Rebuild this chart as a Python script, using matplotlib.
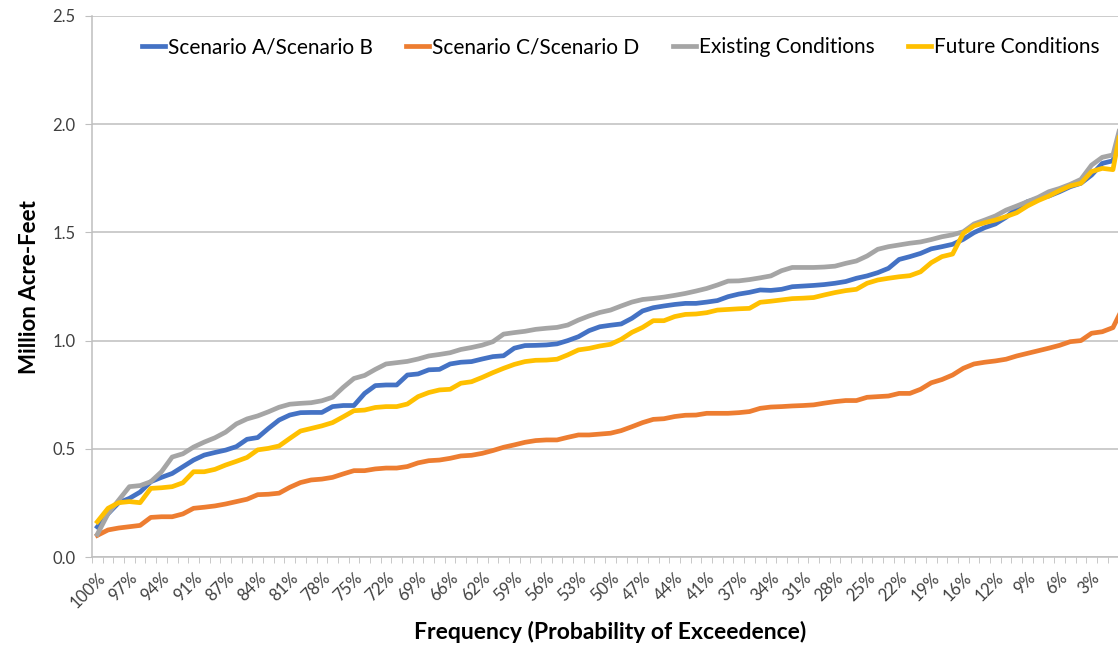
import matplotlib
matplotlib.use("Agg")
import matplotlib.pyplot as plt
from matplotlib.ticker import FixedLocator, FormatStrFormatter

plt.rcParams['font.family'] = ['Lato', 'DejaVu Sans']

# exceedance labels, shown on every third point (100% .. 3%)
freq_labels = ['100%', '97%', '94%', '91%', '87%', '84%', '81%', '78%',
               '75%', '72%', '69%', '66%', '62%', '59%', '56%', '53%',
               '50%', '47%', '44%', '41%', '37%', '34%', '31%', '28%',
               '25%', '22%', '19%', '16%', '12%', '9%', '6%', '3%']

scenario_ab = [0.139, 0.20, 0.251, 0.271, 0.30, 0.348, 0.368, 0.386, 0.417, 0.448,
               0.471, 0.483, 0.494, 0.510, 0.544, 0.552, 0.594, 0.633, 0.656, 0.667,
               0.668, 0.668, 0.695, 0.700, 0.700, 0.756, 0.792, 0.795, 0.795, 0.841,
               0.846, 0.865, 0.867, 0.892, 0.900, 0.903, 0.915, 0.926, 0.930, 0.965,
               0.977, 0.978, 0.980, 0.985, 1.000, 1.018, 1.046, 1.064, 1.071, 1.077,
               1.103, 1.137, 1.152, 1.160, 1.167, 1.172, 1.172, 1.178, 1.185, 1.203,
               1.215, 1.223, 1.234, 1.232, 1.237, 1.249, 1.252, 1.255, 1.259, 1.265,
               1.273, 1.288, 1.299, 1.314, 1.334, 1.375, 1.388, 1.403, 1.424, 1.434,
               1.445, 1.468, 1.499, 1.522, 1.539, 1.570, 1.611, 1.642, 1.656, 1.668,
               1.688, 1.711, 1.727, 1.765, 1.819, 1.831, 2.00]

scenario_cd = [0.100, 0.125, 0.134, 0.140, 0.146, 0.183, 0.186, 0.186, 0.199, 0.225,
               0.230, 0.236, 0.245, 0.256, 0.267, 0.288, 0.290, 0.295, 0.322, 0.344,
               0.356, 0.360, 0.368, 0.384, 0.399, 0.399, 0.407, 0.411, 0.411, 0.418,
               0.435, 0.445, 0.448, 0.456, 0.467, 0.470, 0.479, 0.492, 0.507, 0.518,
               0.530, 0.538, 0.541, 0.541, 0.553, 0.564, 0.564, 0.568, 0.572, 0.584,
               0.602, 0.621, 0.636, 0.639, 0.649, 0.655, 0.656, 0.664, 0.664, 0.664,
               0.667, 0.672, 0.687, 0.693, 0.695, 0.698, 0.700, 0.703, 0.711, 0.718,
               0.723, 0.723, 0.738, 0.741, 0.744, 0.756, 0.756, 0.775, 0.805, 0.820,
               0.841, 0.872, 0.892, 0.900, 0.906, 0.914, 0.929, 0.941, 0.953, 0.965,
               0.978, 0.995, 1.000, 1.034, 1.041, 1.060, 1.160]

existing = [0.105, 0.20, 0.263, 0.325, 0.330, 0.348, 0.394, 0.462, 0.477, 0.508,
            0.531, 0.551, 0.577, 0.615, 0.638, 0.652, 0.671, 0.692, 0.706, 0.710,
            0.713, 0.722, 0.738, 0.784, 0.825, 0.839, 0.867, 0.892, 0.898, 0.904,
            0.915, 0.929, 0.936, 0.944, 0.959, 0.968, 0.979, 0.995, 1.030, 1.037,
            1.043, 1.052, 1.057, 1.061, 1.072, 1.095, 1.114, 1.130, 1.141, 1.160,
            1.178, 1.190, 1.195, 1.201, 1.209, 1.218, 1.229, 1.241, 1.257, 1.275,
            1.276, 1.282, 1.290, 1.299, 1.323, 1.338, 1.338, 1.338, 1.340, 1.344,
            1.357, 1.368, 1.391, 1.422, 1.434, 1.442, 1.450, 1.456, 1.467, 1.480,
            1.489, 1.503, 1.539, 1.557, 1.576, 1.603, 1.622, 1.642, 1.662, 1.688,
            1.703, 1.722, 1.745, 1.811, 1.847, 1.858, 2.05]

future = [0.163, 0.225, 0.251, 0.256, 0.251, 0.317, 0.320, 0.325, 0.343, 0.394,
          0.394, 0.405, 0.425, 0.442, 0.460, 0.495, 0.502, 0.513, 0.548, 0.582,
          0.594, 0.606, 0.621, 0.648, 0.676, 0.679, 0.691, 0.695, 0.695, 0.707,
          0.741, 0.760, 0.772, 0.775, 0.803, 0.810, 0.830, 0.852, 0.872, 0.890,
          0.903, 0.909, 0.910, 0.914, 0.934, 0.957, 0.964, 0.975, 0.983, 1.006,
          1.038, 1.061, 1.092, 1.092, 1.111, 1.121, 1.123, 1.129, 1.141, 1.144,
          1.147, 1.149, 1.177, 1.182, 1.188, 1.194, 1.196, 1.199, 1.211, 1.222,
          1.231, 1.237, 1.265, 1.280, 1.288, 1.295, 1.300, 1.318, 1.360, 1.388,
          1.400, 1.496, 1.530, 1.545, 1.557, 1.573, 1.591, 1.622, 1.647, 1.668,
          1.693, 1.715, 1.727, 1.781, 1.796, 1.790, 2.05]


def main():
    fig = plt.figure(figsize=(11.18, 6.45), dpi=100)
    # the plot area runs past the right edge (the original was cropped)
    ax = fig.add_axes([92 / 1118, 88 / 645, 1037 / 1118, 541 / 645])

    x = list(range(len(scenario_ab)))
    lw = 3.4
    ax.plot(x, scenario_ab, color='#4472C4', lw=lw, label='Scenario A/Scenario B')
    ax.plot(x, scenario_cd, color='#ED7D31', lw=lw, label='Scenario C/Scenario D')
    ax.plot(x, existing, color='#A5A5A5', lw=lw, label='Existing Conditions')
    ax.plot(x, future, color='#FFC000', lw=lw, label='Future Conditions')

    ax.set_xlim(-0.5, len(x) - 0.5)
    ax.set_ylim(0, 2.5)

    ax.set_yticks([0, 0.5, 1.0, 1.5, 2.0, 2.5])
    ax.yaxis.set_major_formatter(FormatStrFormatter('%.1f'))
    ax.grid(axis='y', color='#BFBFBF', lw=1.1)
    ax.set_axisbelow(True)

    ax.set_xticks(range(0, 3 * len(freq_labels), 3))
    ax.set_xticklabels(freq_labels, rotation=45, ha='right',
                       rotation_mode='anchor', fontsize=12, color='#404040')
    ax.xaxis.set_minor_locator(FixedLocator([i - 0.5 for i in range(len(x) + 1)]))
    ax.tick_params(axis='x', which='major', length=0, pad=9)
    ax.tick_params(axis='x', which='minor', length=4, color='#BFBFBF')
    ax.tick_params(axis='y', length=5, color='#BFBFBF', labelsize=12,
                   labelcolor='#404040', pad=7)

    for side in ['top', 'right']:
        ax.spines[side].set_visible(False)
    for side in ['left', 'bottom']:
        ax.spines[side].set_color('#BFBFBF')
        ax.spines[side].set_linewidth(1.1)

    fig.text(30 / 1118, 1 - 287 / 645, 'Million Acre-Feet', rotation=90,
             ha='center', va='center', fontsize=16, fontweight='bold')
    fig.text(610 / 1118, 1 - 632 / 645, 'Frequency (Probability of Exceedence)',
             ha='center', va='center', fontsize=16.5, fontweight='bold')

    fig.legend(loc='center', bbox_to_anchor=(621 / 1118, 1 - 47 / 645), ncol=4,
               frameon=False, fontsize=15, handlelength=1.1, handletextpad=0.15,
               columnspacing=1.6)

    fig.savefig('out.png', dpi=100)


if __name__ == "__main__":
    main()
